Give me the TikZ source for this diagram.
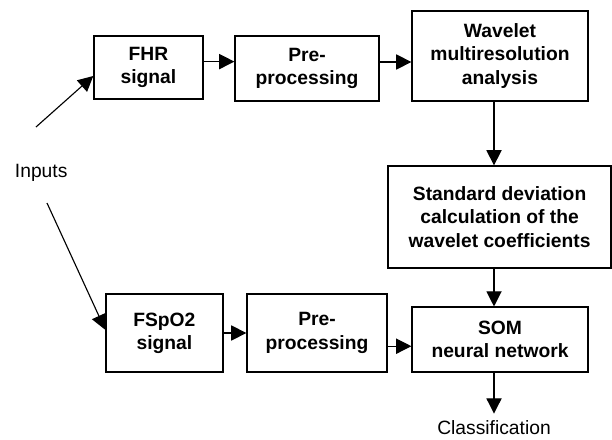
\documentclass[tikz,border=0pt]{standalone}
\usepackage{fontspec}
\setmainfont{Liberation Sans}
\usetikzlibrary{arrows.meta}
\tikzset{
    blk/.style={draw,line width=0.9pt,align=center,inner sep=0pt,
        font=\bfseries\fontsize{13.7}{16.5}\selectfont},
    arr/.style={line width=0.8pt,-{Triangle[length=3.8mm,width=3.8mm]}},
    lbl/.style={inner sep=0pt,font=\fontsize{13.7}{16.5}\selectfont}
}
% a block = name, x, y, width, height, text
\newcommand{\blkbox}[6]{
    \node[blk,minimum width=#4cm,minimum height=#5cm] (#1) at (#2,#3) {#6};
}

\begin{document}
\begin{tikzpicture}
    \useasboundingbox (0,0) rectangle (15.3,-11);

    % first row
    \blkbox{fhr}{3.71}{-1.69}{2.725}{1.575}{FHR\\signal}
    \blkbox{pretop}{7.675}{-1.71}{3.6}{1.625}{Pre-\\processing}
    \blkbox{wav}{12.5}{-1.4}{4.4}{2.25}{Wavelet\\multiresolution\\analysis}

    % middle
    \blkbox{std}{12.49}{-5.425}{5.575}{2.55}{Standard deviation\\calculation of the\\wavelet coefficients}

    % second row
    \blkbox{fsp}{4.11}{-8.325}{2.925}{1.95}{FSpO2\\signal}
    \blkbox{prebot}{7.925}{-8.325}{3.5}{1.95}{Pre-\\processing}
    \blkbox{som}{12.5}{-8.49}{4.4}{1.625}{SOM\\neural network}

    \node[lbl] (inputs) at (1.03,-4.33) {Inputs};
    \node[lbl,anchor=north] (cls) at (12.35,-10.5) {Classification};
    \coordinate (in1) at (0.9,-3.175);
    \coordinate (in2) at (1.175,-5.075);

    % connectors
    \draw[arr] (in1) -- ([yshift=-0.21cm]fhr.west);
    \draw[arr] (in2) -- ([yshift=0.08cm]fsp.west);
    \draw[arr] ([yshift=0.15cm]fhr.east) coordinate (a) -- (a -| pretop.west);
    \draw[arr] ([yshift=0.16cm]pretop.east) coordinate (b) -- (b -| wav.west);
    \draw[arr] ([xshift=-0.15cm]wav.south) coordinate (c) -- (c |- std.north);
    \draw[arr] ([xshift=-0.14cm]std.south) coordinate (d) -- (d |- som.north);
    \draw[arr] (fsp) -- (prebot);
    \draw[arr] ([yshift=-0.33cm]prebot.east) coordinate (e) -- (e -| som.west);
    \draw[arr] ([xshift=-0.15cm]som.south) coordinate (f) -- ++(0,-1.02);

\end{tikzpicture}
\end{document}
